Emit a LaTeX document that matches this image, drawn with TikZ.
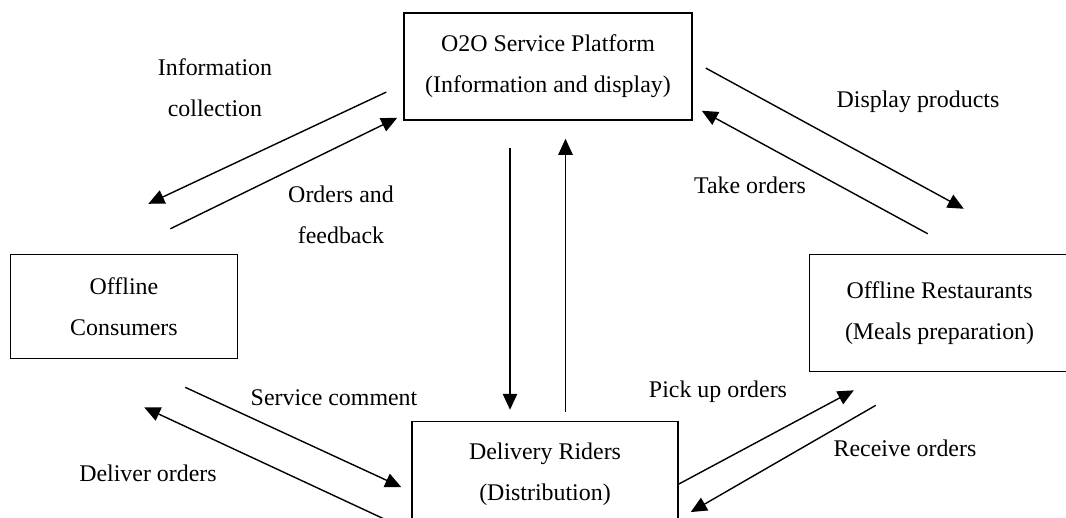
\documentclass[tikz,border=0pt]{standalone}
\usepackage{fontspec}
\setmainfont{Liberation Serif}
\usetikzlibrary{arrows.meta, positioning}

\begin{document}
\begin{tikzpicture}[
    box/.style={draw, rectangle, line width=1.1pt, align=center, inner sep=0pt},
    lbl/.style={align=center, inner sep=0pt},
    arrow/.style={line width=1pt, -{Triangle[length=4mm, width=3.6mm]}},
    font=\fontsize{17}{29.2}\selectfont
]
\useasboundingbox (0,0) rectangle (26.65,-12.925);

% Platform on top, the three parties round it
\node[box, minimum width=7.2cm, minimum height=2.675cm] (plat) at (13.7,-1.6625) {O2O Service Platform \\ (Information and display)};
\node[box, minimum width=5.675cm, minimum height=2.6cm, below left=3.325cm and 4.125cm of plat] (cons) {Offline \\ Consumers};
\node[box, minimum width=6.5cm, minimum height=2.925cm, below right=3.325cm and 2.9cm of plat] (rest) {Offline Restaurants \\ (Meals preparation)};
\node[box, minimum width=6.65cm, minimum height=2.625cm, below=7.5cm of plat, xshift=-0.075cm] (rid) {Delivery Riders \\ (Distribution)};

% Flow labels
\node[lbl] (infolbl) at (5.375,-2.2) {Information \\ collection};
\node[lbl] (orderlbl) at (8.525,-5.375) {Orders and \\ feedback};
\node[lbl] (displbl) at (22.95,-2.55) {Display products};
\node[lbl] (takelbl) at (18.75,-4.625) {Take orders};
\node[lbl] (servlbl) at (8.35,-9.95) {Service comment};
\node[lbl] (delivlbl) at (3.7,-11.825) {Deliver orders};
\node[lbl] (picklbl) at (17.95,-9.8) {Pick up orders};
\node[lbl] (recvlbl) at (22.625,-11.2) {Receive orders};

% Connections
\draw[arrow] ([shift={(-0.425,-0.64)}]plat.west) -- ([shift={(0.61,1.25)}]cons.north);
\draw[arrow] ([shift={(1.16,0.625)}]cons.north) -- ([shift={(-0.15,0.075)}]plat.south west);
\draw[arrow] ([shift={(0.325,-0.04)}]plat.east) -- ([shift={(3.875,1.125)}]rest.north west);
\draw[arrow] ([shift={(2.975,0.5)}]rest.north west) -- ([shift={(0.225,0.25)}]plat.south east);
\draw[arrow] ([shift={(-0.95,-0.675)}]plat.south) -- ([shift={(-0.875,0.275)}]rid.north);
\draw[arrow] ([shift={(0.5125,0.225)}]rid.north) -- ([shift={(0.4375,-0.45)}]plat.south);
\draw[arrow] ([shift={(-1.325,-0.7)}]cons.south east) -- ([shift={(-0.25,-0.325)}]rid.west);
\draw[arrow] ([shift={(-0.35,-1.275)}]rid.west) -- ([shift={(-2.35,-1.2)}]cons.south east);
\draw[arrow] ([shift={(0,-0.25)}]rid.east) -- ([shift={(1.125,-0.45)}]rest.south west);
\draw[arrow] ([shift={(1.675,-0.825)}]rest.south west) -- ([shift={(0.3,-0.95)}]rid.east);

\end{tikzpicture}
\end{document}
